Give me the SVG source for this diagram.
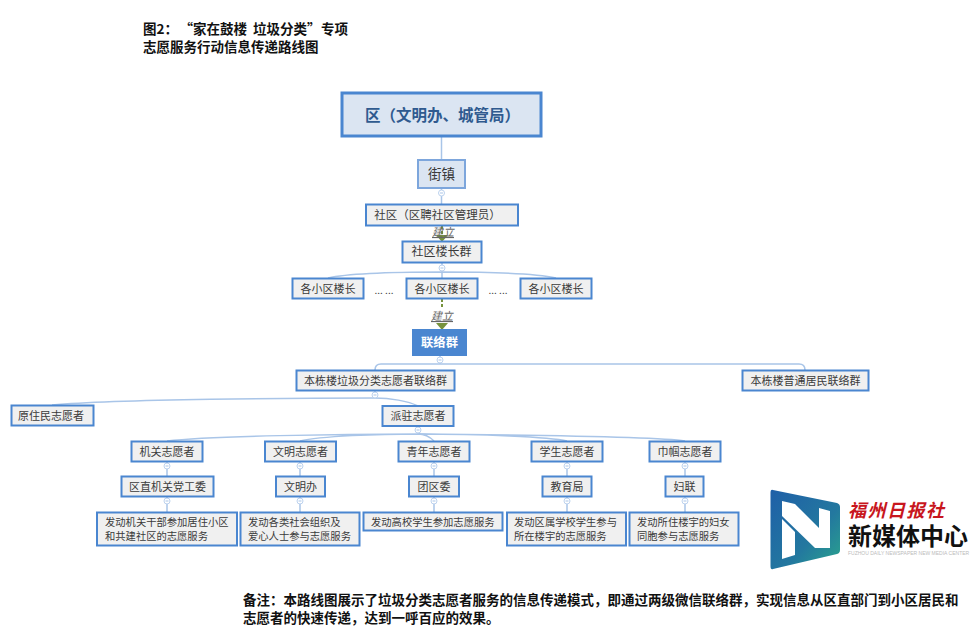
<svg xmlns="http://www.w3.org/2000/svg" width="980" height="642" viewBox="0 0 980 642">
<style>
text{font-family:"Noto Sans CJK SC","Liberation Sans",sans-serif;fill:#3a3a3a;font-size:11px;text-anchor:middle}
.n rect{fill:#f0f0f0;stroke:#4a86d0;stroke-width:2}
.c path,.c line{fill:none;stroke:#a9c5e8;stroke-width:1.5}
.mc{fill:#fff;stroke:#bcd2ee;stroke-width:1}
.ml{stroke:#a9c5e8;stroke-width:1}
.c .g{stroke:#76923c;stroke-width:2;stroke-dasharray:3 2;fill:none}
.t{fill:#76923c}
.e{font-style:italic;font-size:11px;fill:#666;text-decoration:underline}
.b{font-weight:bold;font-size:13.500px;fill:#111;text-anchor:start}
.l{text-anchor:start;font-size:10.300px}
</style>
<defs>
<g id="mn"><circle class="mc" r="3" cx="0" cy="0"/><line class="ml" x1="-1.500" x2="1.500" y1="0" y2="0"/></g>
<linearGradient id="lg" x1="0" y1="0" x2="1" y2="1"><stop offset="0" stop-color="#1f5fa8"/><stop offset="0.6" stop-color="#23789f"/><stop offset="1" stop-color="#2aa58c"/></linearGradient>
</defs>
<text class="b" x="143" y="34">图2：<tspan x="179.500">“家在鼓楼</tspan><tspan x="253">垃圾分类”</tspan><tspan x="321">专项</tspan></text>
<text class="b" x="143" y="52">志愿服务行动信息传递路线图</text>
<g class="c" id="connectors">
<line x1="441.500" y1="137" x2="441.500" y2="159"/>
<line x1="441.500" y1="189" x2="441.500" y2="204"/>
<path d="M442 272V278M442 272C400 272 350 273 328 278M442 272C484 272 534 273 556 278"/>
<path d="M440 364H381Q375 364 375 370M440 364H799Q805 364 805 370"/>
<path d="M375 398C300 398 120 399 52 405M375 398C390 398 408 401 418 406"/>
<path d="M418 434C340 434 210 436 167 441M418 434C380 434 320 436 300 441M418 434C425 434 430 437 434 441M418 434C480 434 550 437 567 441M418 434C530 435 660 437 685 441"/>
<path d="M167 462V476M167 497V512M300 462V476M300 497V512M434 462V476M434 497V512M567 462V476M567 497V512M685 462V476M685 497V512"/>
<line x1="442" y1="263" x2="442" y2="272"/><line x1="440" y1="356" x2="440" y2="364"/><line x1="375" y1="391" x2="375" y2="398"/><line x1="418" y1="426" x2="418" y2="434"/>
<path class="g" d="M442 226V236"/><path class="g" d="M442 299V307"/>
<polygon class="t" points="436,235 448,235 442,242"/>
<polygon class="t" points="436,323 448,323 442,330"/>
<use href="#mn" x="441.500" y="193"/><use href="#mn" x="442" y="268"/><use href="#mn" x="440" y="360"/><use href="#mn" x="375" y="395"/><use href="#mn" x="418" y="430"/>
<use href="#mn" x="167" y="466"/><use href="#mn" x="167" y="501"/><use href="#mn" x="300" y="466"/><use href="#mn" x="300" y="501"/><use href="#mn" x="434" y="466"/><use href="#mn" x="434" y="501"/><use href="#mn" x="567" y="466"/><use href="#mn" x="567" y="501"/><use href="#mn" x="685" y="466"/><use href="#mn" x="685" y="501"/>
<text class="e" x="443" y="236">建立</text>
<text class="e" x="442" y="320">建立</text>
</g>
<g id="n-qu"><rect x="342" y="93" width="199" height="43" style="fill:#dbe5f2;stroke:#4a86d0;stroke-width:3"/><text x="442.500" y="121" style="font-size:15.500px;font-weight:bold;fill:#2f5a8f">区（文明办、城管局）</text></g>
<g id="n-jiezhen" class="n"><rect x="418" y="160" width="47" height="28" style="fill:#dbe5f2;stroke:#7da6dc"/><text x="441.500" y="179" style="font-size:13.500px">街镇</text></g>
<g id="n-shequ" class="n"><rect x="366" y="204.500" width="152" height="21"/><text x="437.500" y="219" style="font-size:11.500px">社区（区聘社区管理员）</text></g>
<g id="n-ld" class="n"><rect x="402.500" y="241.500" width="79" height="21"/><text x="441.500" y="256" style="font-size:12px">社区楼长群</text></g>
<g id="n-a1" class="n"><rect x="292.500" y="278.500" width="71" height="20"/><text x="328" y="292.500">各小区楼长</text></g>
<g id="n-a2" class="n"><rect x="406.500" y="278.500" width="71" height="20"/><text x="442" y="292.500">各小区楼长</text></g>
<g id="n-a3" class="n"><rect x="520.500" y="278.500" width="71" height="20"/><text x="556" y="292.500">各小区楼长</text></g>
<text x="384" y="294" style="font-size:10px">... ...</text>
<text x="498" y="294" style="font-size:10px">... ...</text>
<g id="n-lianluo"><rect x="412" y="329" width="55" height="27" fill="#4a86d0"/><text x="439.500" y="347" style="font-size:12.300px;font-weight:bold;fill:#fff">联络群</text></g>
<g id="n-zy" class="n"><rect x="296.500" y="370.500" width="158" height="20"/><text x="375.500" y="384.500">本栋楼垃圾分类志愿者联络群</text></g>
<g id="n-pt" class="n"><rect x="742.500" y="370.500" width="126" height="20"/><text x="805.500" y="384.500">本栋楼普通居民联络群</text></g>
<g id="n-yzm" class="n"><rect x="11.500" y="405.500" width="82" height="20"/><text x="51" y="419.500">原住民志愿者</text></g>
<g id="n-pz" class="n"><rect x="382.500" y="406" width="71" height="20"/><text x="418" y="420">派驻志愿者</text></g>
<g id="n-v1" class="n"><rect x="131.500" y="441.500" width="71" height="20"/><text x="167" y="455.500">机关志愿者</text></g>
<g id="n-v2" class="n"><rect x="265" y="441.500" width="71" height="20"/><text x="300.500" y="455.500">文明志愿者</text></g>
<g id="n-v3" class="n"><rect x="398.500" y="441.500" width="71" height="20"/><text x="434" y="455.500">青年志愿者</text></g>
<g id="n-v4" class="n"><rect x="531.500" y="441.500" width="71" height="20"/><text x="567" y="455.500">学生志愿者</text></g>
<g id="n-v5" class="n"><rect x="649.500" y="441.500" width="71" height="20"/><text x="685" y="455.500">巾帼志愿者</text></g>
<g id="n-o1" class="n"><rect x="121.500" y="476.500" width="92" height="20"/><text x="167.500" y="491">区直机关党工委</text></g>
<g id="n-o2" class="n"><rect x="276" y="476.500" width="49" height="20"/><text x="300.500" y="491">文明办</text></g>
<g id="n-o3" class="n"><rect x="409" y="476.500" width="50" height="20"/><text x="434" y="491">团区委</text></g>
<g id="n-o4" class="n"><rect x="542.500" y="476.500" width="49" height="20"/><text x="567" y="491">教育局</text></g>
<g id="n-o5" class="n"><rect x="665.500" y="476.500" width="38" height="20"/><text x="684.500" y="491">妇联</text></g>
<g id="n-d1" class="n"><rect x="97" y="512.500" width="140" height="33"/><text class="l" x="105" y="526">发动机关干部参加居住小区</text><text class="l" x="105" y="540">和共建社区的志愿服务</text></g>
<g id="n-d2" class="n"><rect x="240.500" y="512.500" width="119" height="33"/><text class="l" x="248" y="526">发动各类社会组织及</text><text class="l" x="248" y="540">爱心人士参与志愿服务</text></g>
<g id="n-d3" class="n"><rect x="363.500" y="512.500" width="139" height="18"/><text class="l" x="371" y="526">发动高校学生参加志愿服务</text></g>
<g id="n-d4" class="n"><rect x="507" y="512.500" width="119" height="33"/><text class="l" x="514" y="526">发动区属学校学生参与</text><text class="l" x="514" y="540">所在楼宇的志愿服务</text></g>
<g id="n-d5" class="n"><rect x="629.500" y="512.500" width="109" height="33"/><text class="l" x="637" y="526">发动所住楼宇的妇女</text><text class="l" x="637" y="540">同胞参与志愿服务</text></g>
<g id="logo">
<path d="M773 490L837 503Q840 504 840 507V550Q840 553 837 554L773 569Q770.500 570 770.500 566V493Q770.500 489 773 490Z" fill="url(#lg)"/>
<path d="M782 501L795 504 819 528V508L830 511V548H815L782 516Z" fill="#fff"/>
<path d="M782 519L795 532V555L782 559Z" fill="#fff"/>
<text x="848" y="517" style="text-anchor:start;font-size:18px;letter-spacing:1.500px;font-style:italic;font-weight:bold;fill:#c8161d">福州日报社</text>
<text x="848" y="545" style="text-anchor:start;font-size:24px;font-weight:bold;fill:#111">新媒体中心</text>
<text x="848" y="555" style="text-anchor:start;font-size:5px;fill:#bbb;font-family:'Liberation Sans',sans-serif">FUZHOU DAILY NEWSPAPER NEW MEDIA CENTER</text>
</g>
<text class="b" x="243" y="605">备注：本路线图展示了垃圾分类志愿者服务的信息传递模式，即通过两级微信联络群，实现信息从区直部门到小区居民和</text>
<text class="b" x="243" y="623">志愿者的快速传递，达到一呼百应的效果。</text>
</svg>
